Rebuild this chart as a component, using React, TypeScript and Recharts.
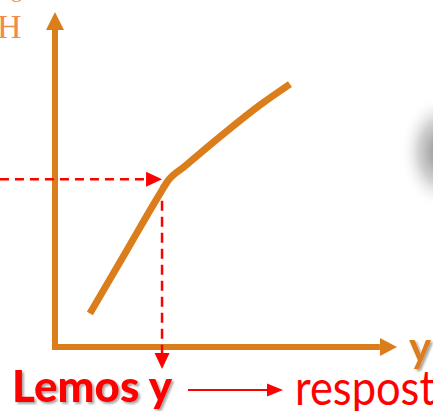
import { LineChart, Line, XAxis, YAxis, ReferenceLine, ReferenceDot } from "recharts";

// curve, in axis units (0..10 both ways)
const curveX = [1.02, 2.05, 3.07, 3.3, 3.8, 5.03, 5.99, 6.87];
const curveY = [1.0, 2.8, 4.58, 4.96, 5.4, 6.45, 7.22, 7.85];

// where the reading is taken
const readX = 3.13;
const readY = 5.01;

const ORANGE = "#DB7D1B";
const RED = "#FF0000";

const data = curveX.map((x, i) => ({ x, y: curveY[i] }));

type ArrowProps = { cx?: number; cy?: number };

const arrowRight = (color: string, len: number, half: number) => (p: ArrowProps) => {
	const { cx = 0, cy = 0 } = p;
	return <polygon points={`${cx},${cy} ${cx - len},${cy - half} ${cx - len},${cy + half}`} fill={color} />;
};

const arrowUp = (color: string, len: number, half: number) => (p: ArrowProps) => {
	const { cx = 0, cy = 0 } = p;
	return <polygon points={`${cx},${cy} ${cx - half},${cy + len} ${cx + half},${cy + len}`} fill={color} />;
};

const arrowDown = (color: string, len: number, half: number) => (p: ArrowProps) => {
	const { cx = 0, cy = 0 } = p;
	return <polygon points={`${cx},${cy} ${cx - half},${cy - len} ${cx + half},${cy - len}`} fill={color} />;
};

export default function App() {
	return (
		<div style={{ width: 433, height: 411, overflow: "hidden" }}>
			<style>{"body{margin:0}"}</style>
			<LineChart width={433} height={411} data={data} margin={{ top: 12, right: 36, bottom: 64, left: 55 }}>
				<defs>
					<radialGradient id="blob" cx="50%" cy="50%" r="50%">
						<stop offset="0%" stopColor="#6e6e6e" stopOpacity={0.9} />
						<stop offset="55%" stopColor="#9a9a9a" stopOpacity={0.45} />
						<stop offset="100%" stopColor="#ffffff" stopOpacity={0} />
					</radialGradient>
					<filter id="shadow" x="-10%" y="-10%" width="130%" height="140%">
						<feDropShadow dx="2" dy="2" stdDeviation="1.2" floodColor="#000" floodOpacity={0.35} />
					</filter>
				</defs>
				<ellipse cx={442} cy={152} rx={42} ry={58} fill="url(#blob)" />
				<XAxis type="number" dataKey="x" domain={[0, 10]} hide />
				<YAxis type="number" dataKey="y" domain={[0, 10]} hide />

				{/* orange axes */}
				<ReferenceLine
					segment={[{ x: -0.09, y: 0 }, { x: 9.5, y: 0 }]}
					stroke={ORANGE}
					strokeWidth={6}
					ifOverflow="visible"
				/>
				<ReferenceLine
					segment={[{ x: 0, y: -0.09 }, { x: 0, y: 9.5 }]}
					stroke={ORANGE}
					strokeWidth={6}
					ifOverflow="visible"
				/>
				<ReferenceDot x={10} y={0} ifOverflow="visible" shape={arrowRight(ORANGE, 17, 9)} />
				<ReferenceDot x={0} y={10} ifOverflow="visible" shape={arrowUp(ORANGE, 18, 9)} />

				{/* red reading guides */}
				<ReferenceLine
					segment={[{ x: -1.61, y: readY }, { x: readX - 0.45, y: readY }]}
					stroke={RED}
					strokeWidth={2.5}
					strokeDasharray="9 6"
					ifOverflow="visible"
				/>
				<ReferenceDot x={readX} y={readY} ifOverflow="visible" shape={arrowRight(RED, 16, 7.5)} />
				<ReferenceLine
					segment={[{ x: readX, y: 4.84 }, { x: readX, y: -0.18 }]}
					stroke={RED}
					strokeWidth={2.5}
					strokeDasharray="10 6"
					ifOverflow="visible"
				/>
				<ReferenceDot x={readX} y={-0.66} ifOverflow="visible" shape={arrowDown(RED, 16, 7.5)} />

				<Line
					type="monotone"
					dataKey="y"
					stroke={ORANGE}
					strokeWidth={7}
					dot={false}
					isAnimationActive={false}
				/>

				{/* labels */}
				<text x={-3} y={38} fontFamily="Liberation Serif" fontSize={34} fill="#EE8C48">
					H
				</text>
				<text x={11} y={-3} fontFamily="Liberation Serif" fontSize={22} fill="#EE8C48">
					g
				</text>
				<text
					x={409}
					y={362}
					fontFamily="Lato"
					fontWeight="bold"
					fontSize={42}
					fill={ORANGE}
					filter="url(#shadow)"
				>
					y
				</text>
				<text
					x={12}
					y={402}
					fontFamily="Lato"
					fontWeight="900"
					fontSize={43}
					fill={RED}
					textLength={160}
					lengthAdjust="spacingAndGlyphs"
					filter="url(#shadow)"
				>
					Lemos y
				</text>
				<line x1={188} y1={390} x2={268} y2={390} stroke={RED} strokeWidth={2} />
				<polygon points="283,390 267,383.5 267,396.5" fill={RED} />
				<text
					x={295}
					y={405}
					fontFamily="Lato"
					fontSize={48}
					fill={RED}
					textLength={140}
					lengthAdjust="spacingAndGlyphs"
				>
					respost
				</text>
			</LineChart>
		</div>
	);
}
